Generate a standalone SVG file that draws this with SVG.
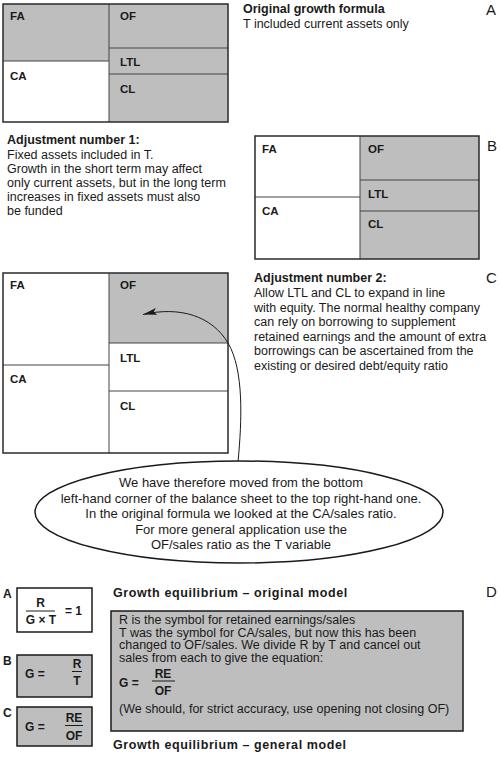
<svg xmlns="http://www.w3.org/2000/svg" width="500" height="758" viewBox="0 0 500 758">
<style>
text{font-family:"Liberation Sans",Arial,Helvetica,sans-serif;fill:#1a1a1a}
.t{font-size:12.5px}
.h{font-size:12.5px;font-weight:bold}
.lab{font-size:11.5px;font-weight:bold}
.sec{font-size:15px}
.el{font-size:13px;text-anchor:middle}
.f{font-size:12px;font-weight:bold}
.fc{font-size:12px;font-weight:bold;text-anchor:middle}
.g{fill:#bebebe}
.w{fill:#fff}
.out{fill:none;stroke:#2a2a2a;stroke-width:1.5}
.div{stroke:#444;stroke-width:1;fill:none}
.fl{stroke:#1a1a1a;stroke-width:1}
</style>
<defs>
<marker id="ah" markerUnits="userSpaceOnUse" viewBox="0 0 14 7" refX="14" refY="3.5" markerWidth="14" markerHeight="7" orient="auto">
<path d="M0,0 L14,3.5 L0,7 L3,3.5 z" fill="#1a1a1a"/>
</marker>
</defs>

<g id="sheetA">
<rect x="3" y="4" width="106" height="57" class="g"/>
<rect x="3" y="61" width="106" height="61" class="w"/>
<rect x="109" y="4" width="119" height="118" class="g"/>
<line x1="109" y1="4" x2="109" y2="122" class="div"/>
<line x1="3" y1="61" x2="109" y2="61" class="div"/>
<line x1="109" y1="48" x2="228" y2="48" class="div"/>
<line x1="109" y1="74" x2="228" y2="74" class="div"/>
<rect x="3" y="4" width="225" height="118" class="out"/>
<text x="10" y="20" class="lab">FA</text>
<text x="120" y="20" class="lab">OF</text>
<text x="120" y="66" class="lab">LTL</text>
<text x="10" y="80" class="lab">CA</text>
<text x="120" y="93" class="lab">CL</text>
</g>

<g id="textA">
<text x="243" y="13" class="h">Original growth formula</text>
<text x="243" y="28" class="t">T included current assets only</text>
<text x="486" y="15" class="sec">A</text>
</g>

<g id="textB">
<text x="7" y="144" class="h">Adjustment number 1:</text>
<text x="7" y="158.5" class="t">Fixed assets included in T.</text>
<text x="7" y="172.5" class="t">Growth in the short term may affect</text>
<text x="7" y="187" class="t">only current assets, but in the long term</text>
<text x="7" y="201" class="t">increases in fixed assets must also</text>
<text x="7" y="215" class="t">be funded</text>
</g>

<g id="sheetB">
<rect x="255" y="136" width="105" height="123" class="w"/>
<rect x="360" y="136" width="119" height="123" class="g"/>
<line x1="360" y1="136" x2="360" y2="259" class="div"/>
<line x1="255" y1="197" x2="360" y2="197" class="div"/>
<line x1="360" y1="180" x2="479" y2="180" class="div"/>
<line x1="360" y1="211" x2="479" y2="211" class="div"/>
<rect x="255" y="136" width="224" height="123" class="out"/>
<text x="262" y="153" class="lab">FA</text>
<text x="368" y="153" class="lab">OF</text>
<text x="368" y="198" class="lab">LTL</text>
<text x="262" y="215" class="lab">CA</text>
<text x="368" y="228" class="lab">CL</text>
<text x="487" y="151" class="sec">B</text>
</g>

<g id="sheetC">
<rect x="3" y="273" width="225" height="180" class="w"/>
<rect x="109" y="273" width="119" height="70" class="g"/>
<line x1="109" y1="273" x2="109" y2="453" class="div"/>
<line x1="3" y1="365" x2="109" y2="365" class="div"/>
<line x1="109" y1="343" x2="228" y2="343" class="div"/>
<line x1="109" y1="391" x2="228" y2="391" class="div"/>
<rect x="3" y="273" width="225" height="180" class="out"/>
<text x="10" y="289" class="lab">FA</text>
<text x="120" y="289" class="lab">OF</text>
<text x="120" y="362" class="lab">LTL</text>
<text x="10" y="383" class="lab">CA</text>
<text x="120" y="410" class="lab">CL</text>
</g>

<g id="textC">
<text x="254" y="282" class="h">Adjustment number 2:</text>
<text x="254" y="297" class="t">Allow LTL and CL to expand in line</text>
<text x="254" y="311.5" class="t">with equity. The normal healthy company</text>
<text x="254" y="326" class="t">can rely on borrowing to supplement</text>
<text x="254" y="340.5" class="t">retained earnings and the amount of extra</text>
<text x="254" y="355" class="t">borrowings can be ascertained from the</text>
<text x="254" y="369.5" class="t">existing or desired debt/equity ratio</text>
<text x="486" y="283" class="sec">C</text>
</g>

<g id="connectors">
<path d="M238,462 C242,420 244,370 228,343 C212,316 180,306 143,314.5" fill="none" stroke="#1a1a1a" stroke-width="1" marker-end="url(#ah)"/>
</g>

<g id="callout">
<ellipse cx="239" cy="512" rx="204" ry="51" fill="#fff" stroke="#1a1a1a" stroke-width="1.5"/>
<text x="241" y="487" class="el">We have therefore moved from the bottom</text>
<text x="241" y="502.5" class="el">left-hand corner of the balance sheet to the top right-hand one.</text>
<text x="241" y="518" class="el">In the original formula we looked at the CA/sales ratio.</text>
<text x="241" y="533.5" class="el">For more general application use the</text>
<text x="241" y="549" class="el">OF/sales ratio as the T variable</text>
</g>

<g id="formulaA">
<text x="3" y="598" class="f">A</text>
<rect x="17" y="588" width="75" height="44" class="w" stroke="#1a1a1a" stroke-width="1.5"/>
<text x="40.5" y="607" class="fc">R</text>
<line x1="26" y1="611" x2="55" y2="611" class="fl"/>
<text x="41" y="623.5" class="fc">G × T</text>
<text x="65" y="615" class="f" font-weight="normal">= 1</text>
</g>

<g id="formulaB">
<text x="3" y="665" class="f">B</text>
<rect x="17" y="655" width="75" height="42" class="g" stroke="#1a1a1a" stroke-width="1.5"/>
<text x="25" y="678" class="f">G =</text>
<text x="77" y="668" class="fc">R</text>
<line x1="72" y1="671.5" x2="82" y2="671.5" class="fl"/>
<text x="77" y="685" class="fc">T</text>
</g>

<g id="formulaC">
<text x="3" y="717" class="f">C</text>
<rect x="17" y="707" width="75" height="39" class="g" stroke="#1a1a1a" stroke-width="1.5"/>
<text x="25" y="731" class="f">G =</text>
<text x="74" y="722" class="fc">RE</text>
<line x1="65" y1="725.5" x2="83" y2="725.5" class="fl"/>
<text x="74" y="740" class="fc">OF</text>
</g>

<g id="boxD">
<text x="113" y="597" class="h" letter-spacing="0.6">Growth equilibrium – original model</text>
<rect x="111" y="611" width="352" height="120" class="g" stroke="#1a1a1a" stroke-width="1.5"/>
<text x="119" y="624" class="t">R is the symbol for retained earnings/sales</text>
<text x="119" y="636.5" class="t">T was the symbol for CA/sales, but now this has been</text>
<text x="119" y="649" class="t">changed to OF/sales. We divide R by T and cancel out</text>
<text x="119" y="661.5" class="t">sales from each to give the equation:</text>
<text x="119" y="687" class="f">G =</text>
<text x="163" y="677.5" class="fc">RE</text>
<line x1="152" y1="681" x2="175" y2="681" class="fl"/>
<text x="163" y="695" class="fc">OF</text>
<text x="119" y="713" class="t">(We should, for strict accuracy, use opening not closing OF)</text>
<text x="113" y="749" class="h" letter-spacing="0.6">Growth equilibrium – general model</text>
<text x="486" y="597" class="sec">D</text>
</g>
</svg>
